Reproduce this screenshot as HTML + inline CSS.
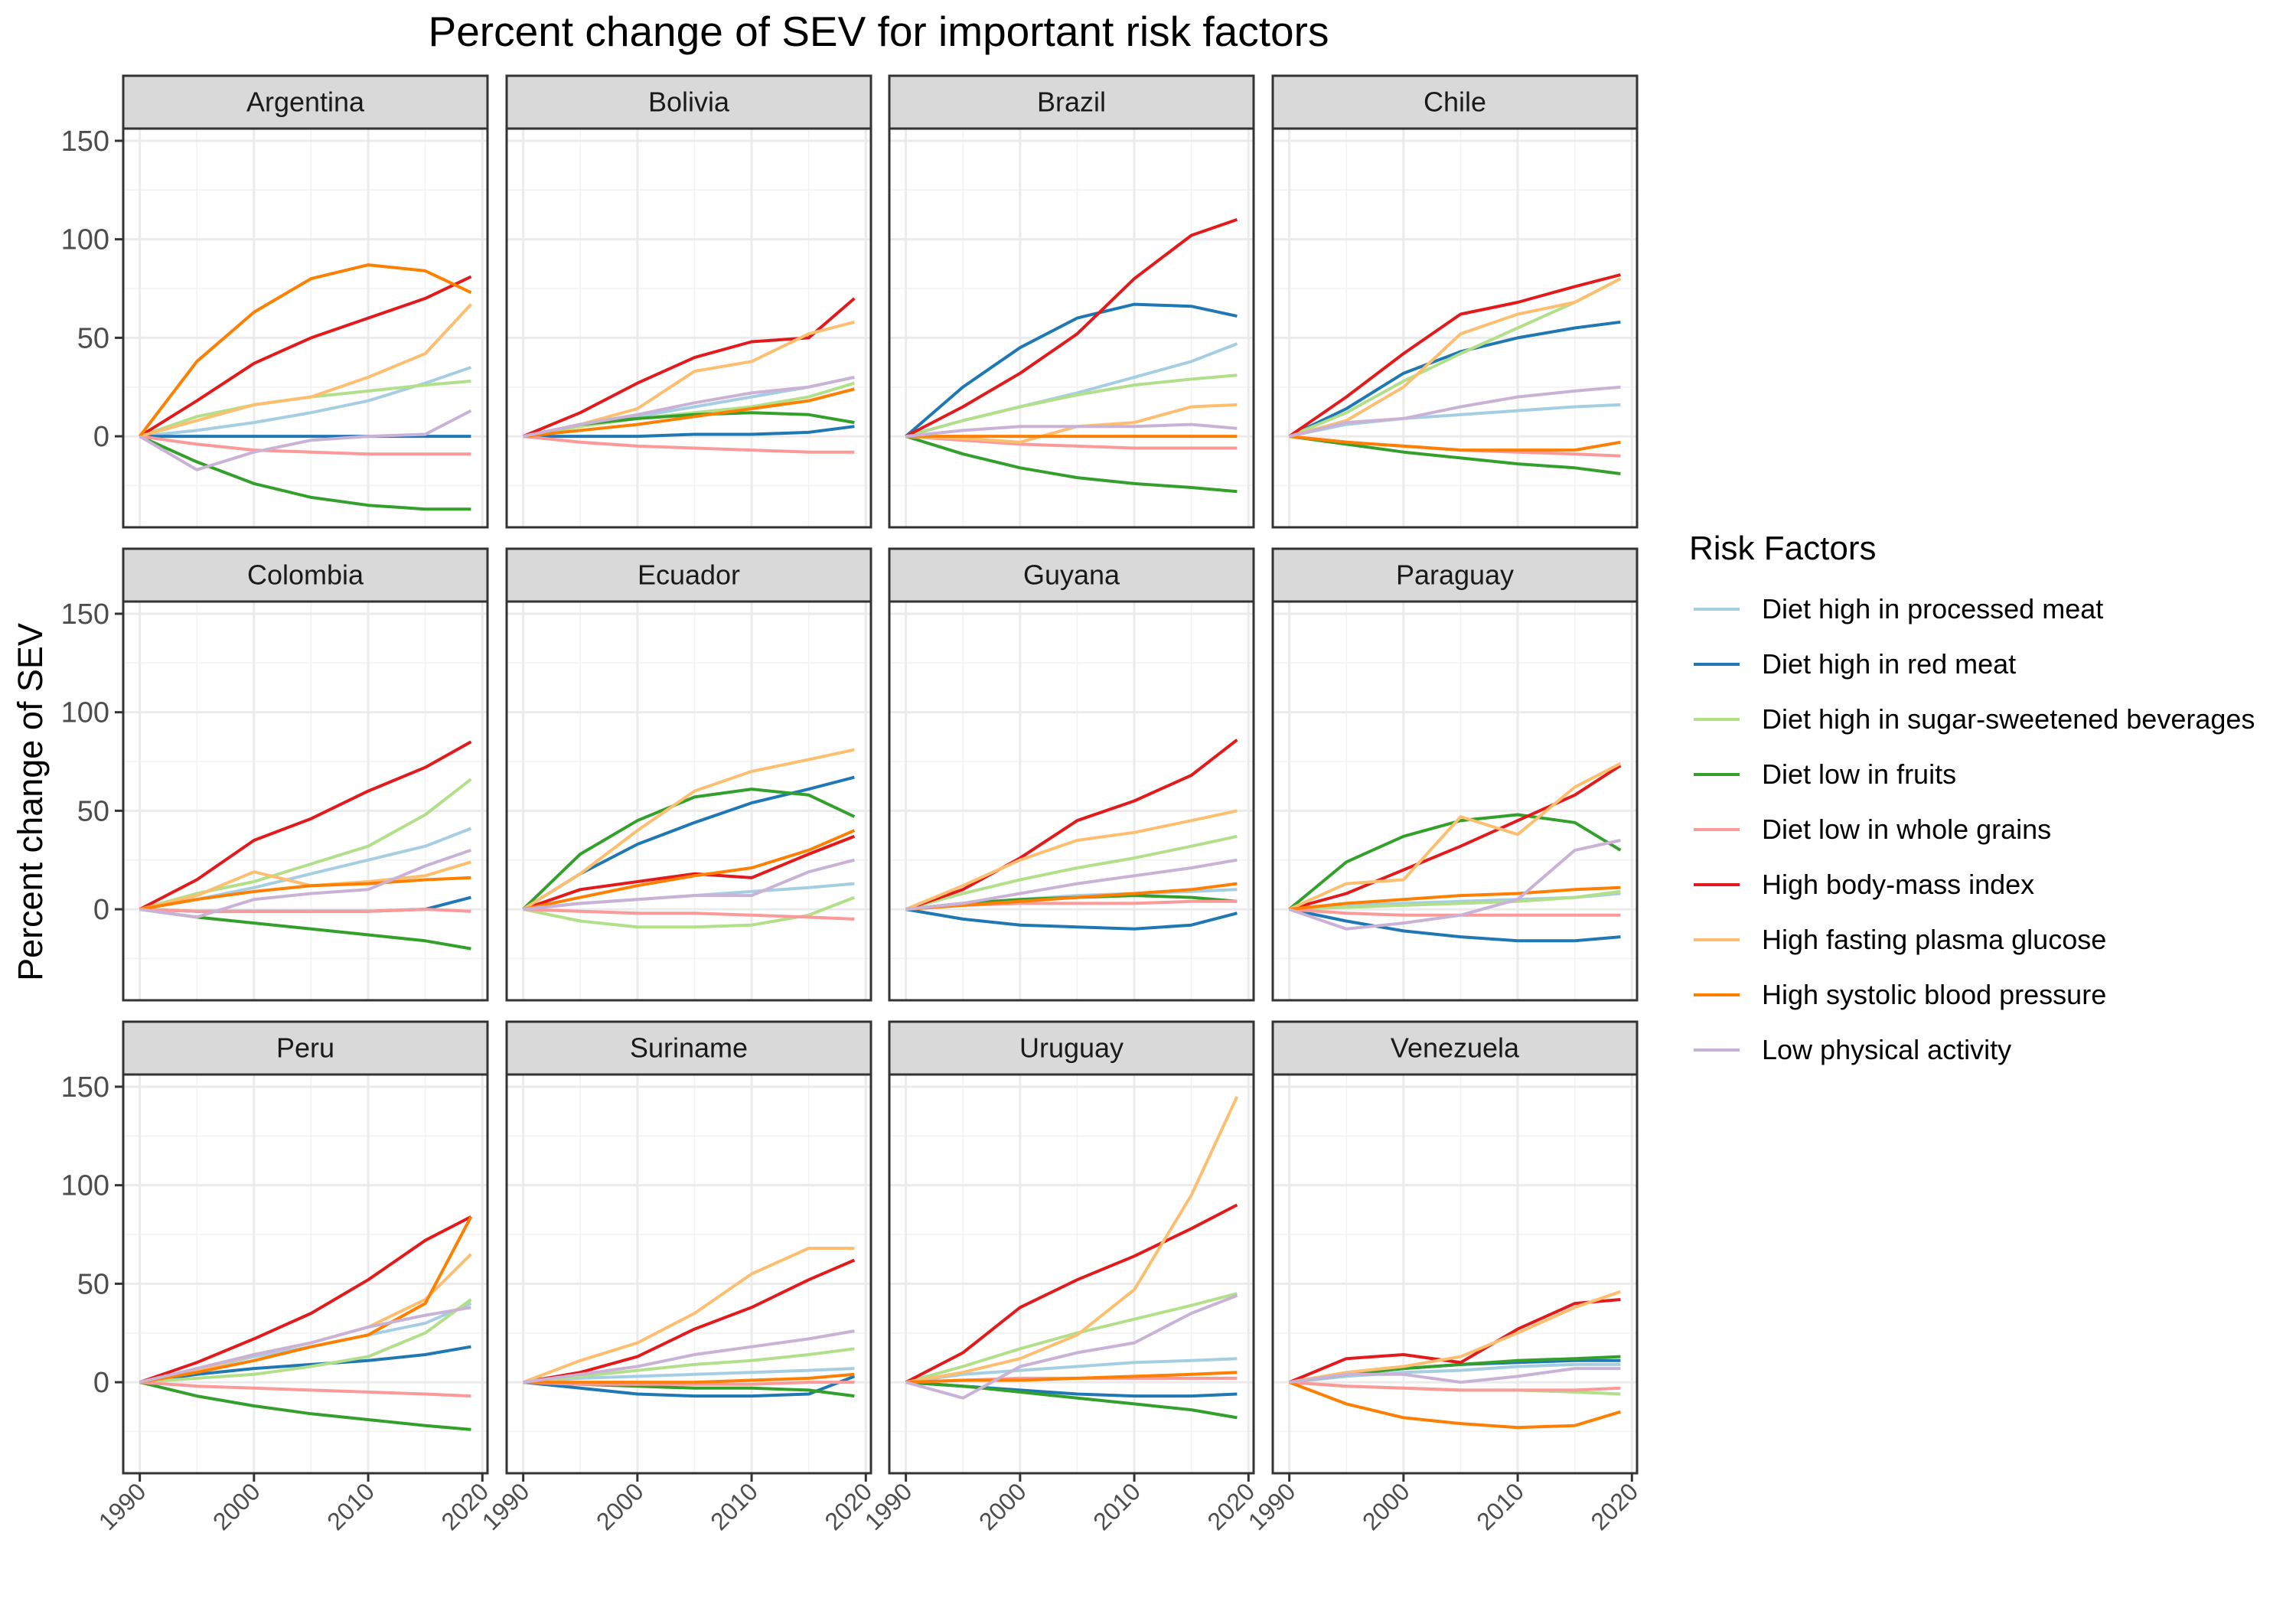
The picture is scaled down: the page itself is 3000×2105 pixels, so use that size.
<!DOCTYPE html>
<html><head><meta charset="utf-8"><style>
body{margin:0;background:#fff}
svg text{font-family:"Liberation Sans",Arial,sans-serif}
</style></head><body>
<svg id="chart" xmlns="http://www.w3.org/2000/svg" width="3000" height="2100" viewBox="0 0 3000 2100">
<rect width="3000" height="2100" fill="#fff"/>
<text x="1148" y="60" font-size="55" text-anchor="middle" fill="#000">Percent change of SEV for important risk factors</text>
<text transform="translate(55,1048) rotate(-90)" font-size="45" text-anchor="middle" fill="#000">Percent change of SEV</text>
<g id="panels"></g>
<g id="legend"></g>
</svg>
<script>
const years=[1990,1995,2000,2005,2010,2015,2019];
const countries=["Argentina","Bolivia","Brazil","Chile","Colombia","Ecuador","Guyana","Paraguay","Peru","Suriname","Uruguay","Venezuela"];
const factors=["Diet high in processed meat","Diet high in red meat","Diet high in sugar-sweetened beverages","Diet low in fruits","Diet low in whole grains","High body-mass index","High fasting plasma glucose","High systolic blood pressure","Low physical activity"];
const colors=["#A6CEE3","#1F78B4","#B2DF8A","#33A02C","#FB9A99","#E31A1C","#FDBF6F","#FF7F00","#CAB2D6"];
const yTicks=[0,50,100,150];
const xTicks=[1990,2000,2010,2020];
const Argentina=[[0,3,7,12,18,27,35],[0,0,0,0,0,0,0],[0,10,16,20,23,26,28],[0,-13,-24,-31,-35,-37,-37],[0,-4,-7,-8,-9,-9,-9],[0,18,37,50,60,70,81],[0,8,16,20,30,42,67],[0,38,63,80,87,84,73],[0,-17,-8,-2,0,1,13]];
const Bolivia=[[0,5,10,15,20,25,30],[0,0,0,1,1,2,5],[0,5,9,12,15,20,27],[0,6,9,11,12,11,7],[0,-3,-5,-6,-7,-8,-8],[0,12,27,40,48,50,70],[0,6,14,33,38,52,58],[0,3,6,10,14,18,24],[0,6,11,17,22,25,30]];
const Brazil=[[0,8,15,22,30,38,47],[0,25,45,60,67,66,61],[0,8,15,21,26,29,31],[0,-9,-16,-21,-24,-26,-28],[0,-2,-4,-5,-6,-6,-6],[0,15,32,52,80,102,110],[0,-1,-3,5,7,15,16],[0,0,0,0,0,0,0],[0,3,5,5,5,6,4]];
const Chile=[[0,6,9,11,13,15,16],[0,14,32,43,50,55,58],[0,12,28,42,55,68,80],[0,-4,-8,-11,-14,-16,-19],[0,-3,-5,-7,-8,-9,-10],[0,20,42,62,68,76,82],[0,8,25,52,62,68,80],[0,-3,-5,-7,-7,-7,-3],[0,7,9,15,20,23,25]];
const Colombia=[[0,5,11,18,25,32,41],[0,-1,-1,-1,-1,0,6],[0,8,14,23,32,48,66],[0,-4,-7,-10,-13,-16,-20],[0,-1,-1,-1,-1,0,-1],[0,15,35,46,60,72,85],[0,7,19,12,14,17,24],[0,5,9,12,13,15,16],[0,-4,5,8,10,22,30]];
const Ecuador=[[0,3,5,7,9,11,13],[0,18,33,44,54,61,67],[0,-6,-9,-9,-8,-3,6],[0,28,45,57,61,58,47],[0,-1,-2,-2,-3,-4,-5],[0,10,14,18,16,28,37],[0,18,40,60,70,76,81],[0,6,12,17,21,30,40],[0,3,5,7,7,19,25]];
const Guyana=[[0,3,5,7,8,9,10],[0,-5,-8,-9,-10,-8,-2],[0,8,15,21,26,32,37],[0,3,5,6,7,6,4],[0,2,3,3,3,4,4],[0,10,26,45,55,68,86],[0,12,25,35,39,45,50],[0,2,4,6,8,10,13],[0,3,8,13,17,21,25]];
const Paraguay=[[0,2,3,4,5,6,8],[0,-6,-11,-14,-16,-16,-14],[0,1,2,3,4,6,9],[0,24,37,45,48,44,30],[0,-2,-3,-3,-3,-3,-3],[0,8,20,32,45,58,73],[0,13,15,47,38,62,74],[0,3,5,7,8,10,11],[0,-10,-7,-3,5,30,35]];
const Peru=[[0,6,13,18,24,30,40],[0,4,7,9,11,14,18],[0,2,4,8,13,25,42],[0,-7,-12,-16,-19,-22,-24],[0,-2,-3,-4,-5,-6,-7],[0,10,22,35,52,72,84],[0,6,14,20,28,42,65],[0,5,11,18,24,40,84],[0,7,14,20,28,34,38]];
const Suriname=[[0,2,3,4,5,6,7],[0,-3,-6,-7,-7,-6,3],[0,3,6,9,11,14,17],[0,-1,-2,-3,-3,-4,-7],[0,-1,-1,-1,-1,0,0],[0,5,13,27,38,52,62],[0,11,20,35,55,68,68],[0,0,0,0,1,2,4],[0,4,8,14,18,22,26]];
const Uruguay=[[0,4,6,8,10,11,12],[0,-2,-4,-6,-7,-7,-6],[0,8,17,25,32,39,45],[0,-2,-5,-8,-11,-14,-18],[0,1,2,2,2,2,2],[0,15,38,52,64,78,90],[0,5,12,24,47,95,145],[0,1,1,2,3,4,5],[0,-8,8,15,20,35,44]];
const Venezuela=[[0,3,5,6,8,9,9],[0,4,7,9,10,11,11],[0,-2,-3,-4,-4,-5,-6],[0,4,7,9,11,12,13],[0,-2,-3,-4,-4,-4,-3],[0,12,14,10,27,40,42],[0,5,8,13,25,38,46],[0,-11,-18,-21,-23,-22,-15],[0,4,4,0,3,7,7]];
const seriesByCountry=[Argentina,Bolivia,Brazil,Chile,Colombia,Ecuador,Guyana,Paraguay,Peru,Suriname,Uruguay,Venezuela];

const NS="http://www.w3.org/2000/svg";
function mk(tag,attrs,parent){const e=document.createElementNS(NS,tag);for(const k in attrs)e.setAttribute(k,attrs[k]);parent.appendChild(e);return e;}
const colX=[161,662,1162,1663], rowY=[99,717,1335], PW=476, SH=69, PH=521;
const xMin=1988.55,xMax=2020.45,yMin=-46.2,yMax=156.2;
function sx(c,v){return colX[c]+(v-xMin)/(xMax-xMin)*PW;}
function sy(r,v){return rowY[r]+SH+PH-(v-yMin)/(yMax-yMin)*PH;}
const panels=document.getElementById('panels');
countries.forEach((name,i)=>{
  const c=i%4,r=Math.floor(i/4);
  const g=mk('g',{},panels);
  
  
  const top=rowY[r]+SH, left=colX[c];
  for(let v=-25;v<=125;v+=50){const l=mk('line',{x1:left,x2:left+PW,y1:sy(r,v),y2:sy(r,v),stroke:'#f2f2f2','stroke-width':1.5},g);}
  for(let v=1995;v<=2015;v+=10){const l=mk('line',{x1:sx(c,v),x2:sx(c,v),y1:top,y2:top+PH,stroke:'#f2f2f2','stroke-width':1.5},g);}
  yTicks.forEach(v=>{const l=mk('line',{x1:left,x2:left+PW,y1:sy(r,v),y2:sy(r,v),stroke:'#ebebeb','stroke-width':3},g);});
  xTicks.forEach(v=>{const l=mk('line',{x1:sx(c,v),x2:sx(c,v),y1:top,y2:top+PH,stroke:'#ebebeb','stroke-width':3},g);});
  seriesByCountry[i].forEach((vals,k)=>{
    const pts=vals.map((v,j)=>sx(c,years[j]).toFixed(1)+','+sy(r,v).toFixed(1)).join(' ');
    const p=mk('polyline',{points:pts,fill:'none',stroke:colors[k],'stroke-width':4,'stroke-linejoin':'round'},g);
    
    
  });
  const b=mk('rect',{x:left,y:top,width:PW,height:PH,fill:'none',stroke:'#333','stroke-width':3},g);
  
  
  const s=mk('rect',{x:left,y:rowY[r],width:PW,height:SH,fill:'#d9d9d9',stroke:'#333','stroke-width':3},g);
  
  
  const st=mk('text',{x:left+PW/2,y:rowY[r]+SH/2+12,'font-size':36,'text-anchor':'middle',fill:'#1a1a1a'},g);
  st.textContent=name;
  
  
  if(c===0){
    yTicks.forEach(v=>{
      const t=mk('line',{x1:left-11,x2:left,y1:sy(r,v),y2:sy(r,v),stroke:'#333','stroke-width':3},g);
      
      
      const tl=mk('text',{x:left-18,y:sy(r,v)+13,'font-size':38,'text-anchor':'end',fill:'#4d4d4d'},g);
      tl.textContent=v;
      
      
    });
  }
  if(r===2){
    xTicks.forEach(v=>{
      const x=sx(c,v),y=top+PH;
      const t=mk('line',{x1:x,x2:x,y1:y,y2:y+11,stroke:'#333','stroke-width':3},g);
      
      
      const tl=mk('text',{transform:`translate(${x+10},${y+26}) rotate(-45)`,'font-size':32,'text-anchor':'end',fill:'#4d4d4d'},g);
      tl.textContent=v;
      
      
    });
  }
});
const lg=document.getElementById('legend');
const lt=mk('text',{x:2207,y:731,'font-size':44,fill:'#000'},lg);
lt.textContent='Risk Factors';


factors.forEach((f,k)=>{
  const y=796+k*72;
  const g=mk('g',{},lg);
  
  
  mk('line',{x1:2213,x2:2273,y1:y,y2:y,stroke:colors[k],'stroke-width':4},g);
  const t=mk('text',{x:2302,y:y+12,'font-size':36,fill:'#000'},g);
  t.textContent=f;
  
  
});
</script>
</body></html>
